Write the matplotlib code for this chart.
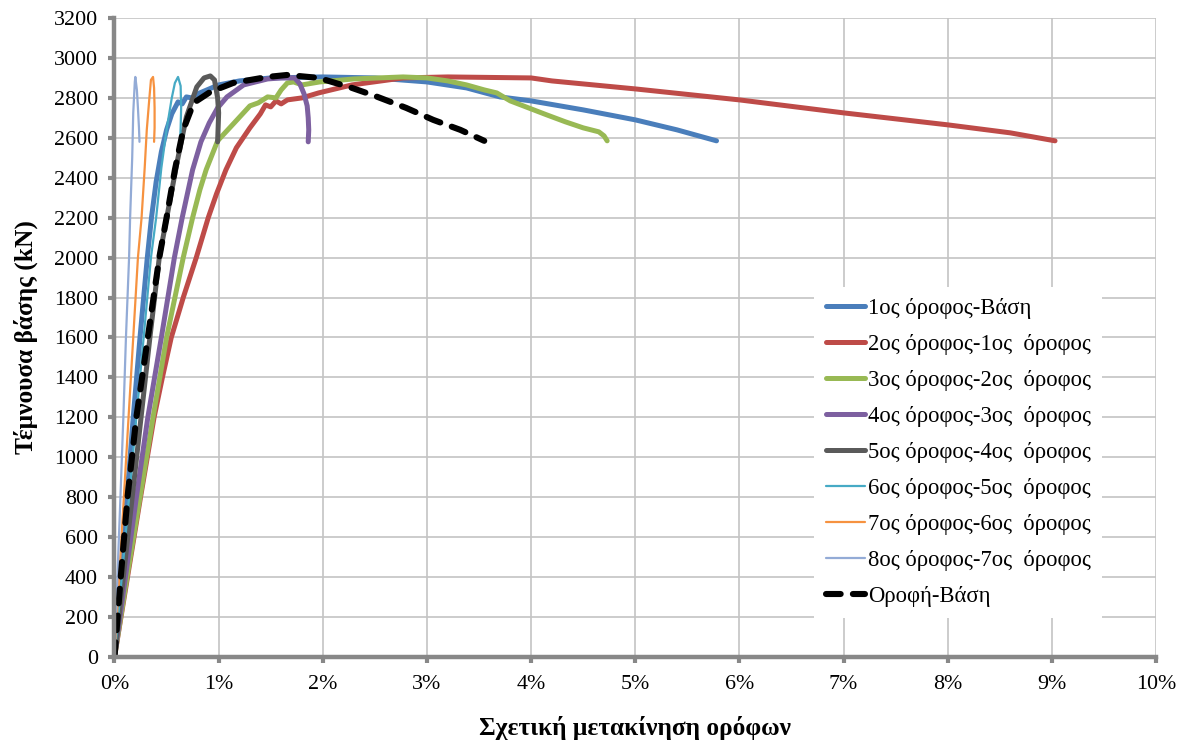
import matplotlib
matplotlib.use("Agg")
import matplotlib.pyplot as plt
from matplotlib.ticker import FuncFormatter

# Inter-storey drift (%) vs base shear (kN), one pushover curve per storey pair
drift_1 = [0, 0.09, 0.18, 0.245, 0.315, 0.355, 0.40, 0.45, 0.50, 0.55, 0.61, 0.65, 0.69, 0.74,
           0.82, 1.0, 1.2, 1.5, 2.0, 2.5, 2.75, 3.0, 3.38, 3.7, 4.0, 4.5, 5.0, 5.4, 5.78]
shear_1 = [0, 600, 1200, 1600, 2000, 2200, 2380, 2530, 2640, 2720, 2780, 2770, 2805, 2800,
           2825, 2865, 2885, 2900, 2905, 2900, 2890, 2880, 2850, 2805, 2785, 2740, 2690, 2640, 2585]

drift_2 = [0, 0.125, 0.25, 0.38, 0.46, 0.545, 0.66, 0.785, 0.90, 0.98, 1.07, 1.17, 1.30, 1.40,
           1.45, 1.50, 1.55, 1.60, 1.66, 1.80, 1.96, 2.28, 2.77, 3.2, 4.0, 4.2, 5.0, 6.0, 7.0,
           8.0, 8.6, 9.03]
shear_2 = [0, 400, 800, 1200, 1400, 1600, 1800, 2000, 2200, 2320, 2440, 2550, 2650, 2720,
           2765, 2755, 2785, 2770, 2790, 2800, 2825, 2865, 2900, 2905, 2900, 2885, 2845, 2790, 2725,
           2665, 2625, 2585]

drift_3 = [0, 0.12, 0.245, 0.37, 0.50, 0.66, 0.75, 0.82, 0.88, 0.99, 1.15, 1.30, 1.38, 1.47,
           1.55, 1.60, 1.66, 1.72, 1.80, 1.97, 2.3, 2.77, 3.0, 3.2, 3.38, 3.55, 3.67, 3.8,
           3.95, 4.15, 4.33, 4.5, 4.65, 4.70, 4.73]
shear_3 = [0, 400, 800, 1200, 1600, 2000, 2200, 2340, 2440, 2585, 2675, 2760, 2775, 2805,
           2800, 2840, 2875, 2880, 2865, 2880, 2895, 2905, 2900, 2885, 2865, 2840, 2825, 2785,
           2755, 2715, 2680, 2650, 2630, 2610, 2585]

drift_4 = [0, 0.105, 0.21, 0.32, 0.45, 0.575, 0.65, 0.75, 0.83, 0.91, 0.99, 1.08, 1.24, 1.47,
           1.6, 1.73, 1.78, 1.82, 1.85, 1.86, 1.865, 1.86]
shear_4 = [0, 400, 800, 1200, 1600, 2000, 2200, 2440, 2580, 2675, 2750, 2805, 2865, 2895,
           2900, 2900, 2870, 2820, 2760, 2700, 2640, 2580]

drift_5 = [0, 0.085, 0.17, 0.255, 0.34, 0.43, 0.48, 0.60, 0.69, 0.79, 0.86, 0.92, 0.96,
           0.99, 1.0, 0.995, 0.99]
shear_5 = [0, 400, 800, 1200, 1600, 2000, 2140, 2475, 2705, 2855, 2900, 2910, 2890,
           2800, 2725, 2650, 2580]

drift_6 = [0, 0.07, 0.14, 0.21, 0.28, 0.35, 0.40, 0.45, 0.50, 0.55, 0.58, 0.61, 0.635,
           0.64, 0.635, 0.63]
shear_6 = [0, 400, 800, 1200, 1600, 2000, 2200, 2450, 2640, 2800, 2875, 2905, 2860,
           2750, 2650, 2590]

drift_7 = [0, 0.045, 0.09, 0.135, 0.18, 0.225, 0.26, 0.29, 0.31, 0.335, 0.35, 0.37, 0.38,
           0.385, 0.385, 0.38]
shear_7 = [0, 400, 800, 1200, 1600, 2000, 2200, 2450, 2640, 2800, 2890, 2905, 2850,
           2750, 2650, 2580]

drift_8 = [0, 0.028, 0.057, 0.085, 0.11, 0.14, 0.15, 0.17, 0.18, 0.195, 0.20, 0.215,
           0.225, 0.235, 0.24]
shear_8 = [0, 400, 800, 1200, 1600, 2000, 2200, 2500, 2725, 2880, 2905, 2840,
           2750, 2650, 2580]

drift_roof = [0, 0.06, 0.125, 0.21, 0.32, 0.43, 0.50, 0.58, 0.66, 0.76, 0.92, 1.14, 1.47,
              1.66, 1.96, 2.28, 2.5, 2.8, 3.06, 3.32, 3.55]
shear_roof = [0, 400, 800, 1200, 1600, 2000, 2200, 2440, 2640, 2775, 2830, 2875, 2905,
              2915, 2900, 2850, 2810, 2750, 2690, 2640, 2585]

labels = ["1ος όροφος-Βάση",
          "2ος όροφος-1ος  όροφος",
          "3ος όροφος-2ος  όροφος",
          "4ος όροφος-3ος  όροφος",
          "5ος όροφος-4ος  όροφος",
          "6ος όροφος-5ος  όροφος",
          "7ος όροφος-6ος  όροφος",
          "8ος όροφος-7ος  όροφος",
          "Οροφή-Βάση"]

x_ticks = list(range(0, 11))
y_ticks = list(range(0, 3201, 200))

series = [(drift_1, shear_1), (drift_2, shear_2), (drift_3, shear_3), (drift_4, shear_4),
          (drift_5, shear_5), (drift_6, shear_6), (drift_7, shear_7), (drift_8, shear_8)]
colors = ["#4A7EBB", "#BE4B48", "#98B954", "#7D60A0", "#5A5A5A", "#46AAC5", "#F69240", "#93ABD6"]
widths = [3.6, 3.6, 3.6, 3.6, 3.6, 1.6, 1.6, 1.6]

plt.rcParams["font.family"] = ["Liberation Serif", "DejaVu Serif"]

fig = plt.figure(figsize=(11.84, 7.42), dpi=100)
ax = fig.add_axes([0.0967, 0.1146, 0.8797, 0.8611])

for (x, y), c, w, lab in zip(series, colors, widths, labels):
    ax.plot(x, y, color=c, lw=w, label=lab, solid_capstyle="round", solid_joinstyle="round")

ax.plot(drift_roof, shear_roof, color="black", lw=4.4, dashes=(2.4, 2.0),
        dash_capstyle="round", label=labels[8])

ax.set_xlim(0, 10)
ax.set_ylim(0, 3200)
ax.set_xticks(x_ticks)
ax.set_yticks(y_ticks)
ax.xaxis.set_major_formatter(FuncFormatter(lambda v, p: f"{int(round(v))}%"))

ax.grid(True, color="#C4C4C4", lw=1.2)
ax.set_axisbelow(True)

for s in ("top", "right"):
    ax.spines[s].set_visible(False)
for s in ("left", "bottom"):
    ax.spines[s].set_color("#888888")
    ax.spines[s].set_linewidth(3.2)

ax.tick_params(axis="both", which="major", direction="out", length=4, width=3,
               color="#888888", labelsize=15.8, labelcolor="black")
ax.tick_params(axis="y", pad=8)
ax.tick_params(axis="x", pad=9)

ax.set_xlabel("Σχετική μετακίνηση ορόφων", fontsize=18.3, fontweight="bold", labelpad=16)
ax.set_ylabel("Τέμνουσα βάσης (kN)", fontsize=18.3, fontweight="bold", labelpad=11)

leg = ax.legend(loc="upper left", bbox_to_anchor=(0.672, 0.579), frameon=True,
                fontsize=16.3, handlelength=1.75, handletextpad=0.1, labelspacing=0.66,
                borderpad=0.5, borderaxespad=0)
leg.get_frame().set_facecolor("white")
leg.get_frame().set_edgecolor("none")
leg.get_frame().set_alpha(1)
leg.get_frame().set_boxstyle("square", pad=0)

fig.savefig("out.png", dpi=100)
